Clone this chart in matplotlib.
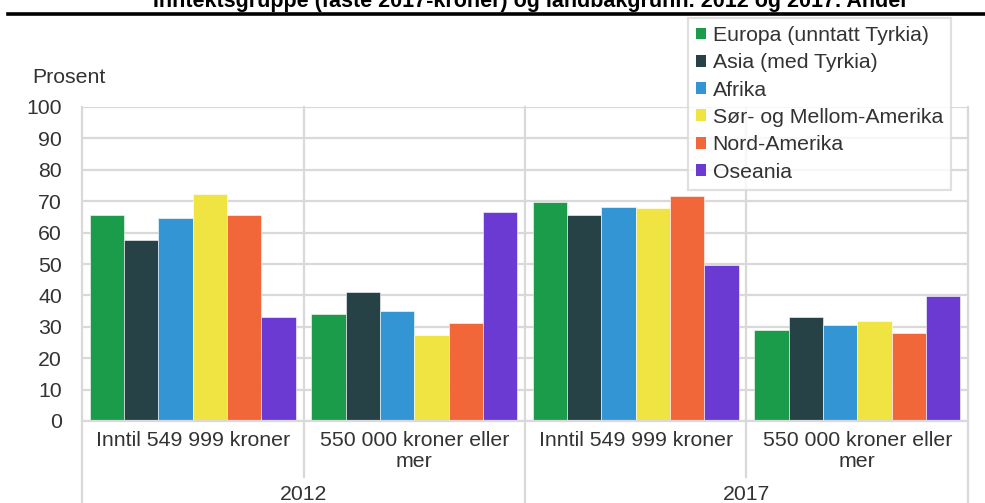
import matplotlib
matplotlib.use("Agg")
import matplotlib.pyplot as plt
from matplotlib.lines import Line2D
from matplotlib.patches import Patch
import numpy as np

plt.rcParams['font.family'] = ['Liberation Sans', 'DejaVu Sans']

title = "Inntektsgruppe (faste 2017-kroner) og landbakgrunn. 2012 og 2017. Andel"
years = ["2012", "2017"]
income_groups = ["Inntil 549 999 kroner", "550 000 kroner eller\nmer"]
series_names = ["Europa (unntatt Tyrkia)", "Asia (med Tyrkia)", "Afrika",
                "Sør- og Mellom-Amerika", "Nord-Amerika", "Oseania"]
colors = ["#1b9c4a", "#274247", "#3395d3", "#efe442", "#f26739", "#6a3ad3"]

# values per series: [2012 low, 2012 high, 2017 low, 2017 high]
europa = [65.5, 34.0, 69.8, 29.0]
asia = [57.8, 41.2, 65.5, 33.2]
afrika = [64.8, 35.0, 68.0, 30.5]
sor_mellom = [72.3, 27.3, 67.8, 31.8]
nord = [65.5, 31.2, 71.7, 28.0]
oseania = [33.0, 66.5, 49.6, 39.8]
values = [europa, asia, afrika, sor_mellom, nord, oseania]

W, H = 985, 503
fig = plt.figure(figsize=(W / 100, H / 100), dpi=100)
L, R, T, B = 82, 968, 107, 421
ax = fig.add_axes([L / W, (H - B) / H, (R - L) / W, (B - T) / H])

grid_c = "#d9d9d9"
text_c = "#333333"
fs = 15.3

n_cat = len(years) * len(income_groups)
x = np.arange(n_cat)
group_frac = 0.93
bw = group_frac / len(series_names)
for i, (vals, c, name) in enumerate(zip(values, colors, series_names)):
    offs = -group_frac / 2 + bw * (i + 0.5)
    ax.bar(x + offs, vals, width=bw, color=c, edgecolor="white",
           linewidth=0.4, label=name, zorder=3)

ax.set_xlim(-0.5, n_cat - 0.5)
ax.set_ylim(0, 100)
ax.set_yticks(np.arange(0, 101, 10))
ax.tick_params(axis='y', length=0, labelsize=fs, labelcolor=text_c, pad=14.4)
ax.set_xticks([])
for s in ax.spines.values():
    s.set_visible(False)
ax.yaxis.grid(True, color=grid_c, linewidth=1.6, zorder=0)
ax.set_axisbelow(True)

# vertical separators inside plot and below axis
xtr = ax.get_xaxis_transform()
for k in range(n_cat + 1):
    xb = k - 0.5
    bottom = -0.262 if k % 2 == 0 else -0.178
    ax.plot([xb, xb], [bottom, 1.0], color=grid_c, linewidth=1.6,
            transform=xtr, clip_on=False, zorder=1)
ax.plot([-0.5, n_cat - 0.5], [0, 0], color=grid_c, linewidth=1.6,
        transform=xtr, clip_on=False, zorder=4)

# category labels
for k in range(n_cat):
    lab = income_groups[k % 2]
    ax.text(k, -0.032, lab, transform=xtr, ha='center', va='top',
            fontsize=fs, color=text_c, linespacing=1.15)
for j, yr in enumerate(years):
    ax.text(2 * j + 0.5, -0.203, yr, transform=xtr, ha='center', va='top',
            fontsize=fs, color=text_c)

fig.text(32 / W, 1 - 77 / H, "Prosent", ha='left', va='center',
         fontsize=fs, color=text_c)

# title (partly cut off at top) and rule
fig.text(530 / W, 1 - 7 / H, title, ha='center', va='baseline',
         fontsize=15.5, fontweight='bold', color='black')
fig.add_artist(Line2D([8 / W, 1.0], [1 - 14 / H, 1 - 14 / H],
                      color='black', linewidth=2.6,
                      transform=fig.transFigure))

handles = [Patch(facecolor=c, edgecolor='none') for c in colors]
leg = fig.legend(handles, series_names, loc='upper left',
                 bbox_to_anchor=(688 / W, 1 - 18 / H),
                 fontsize=fs, frameon=True, fancybox=False,
                 handlelength=0.48, handleheight=0.48, handletextpad=0.3,
                 labelspacing=0.39, borderpad=0.38, borderaxespad=0)
leg.get_frame().set_edgecolor(grid_c)
leg.get_frame().set_linewidth(1.6)
for t in leg.get_texts():
    t.set_color(text_c)

fig.savefig("out.png", dpi=100)
